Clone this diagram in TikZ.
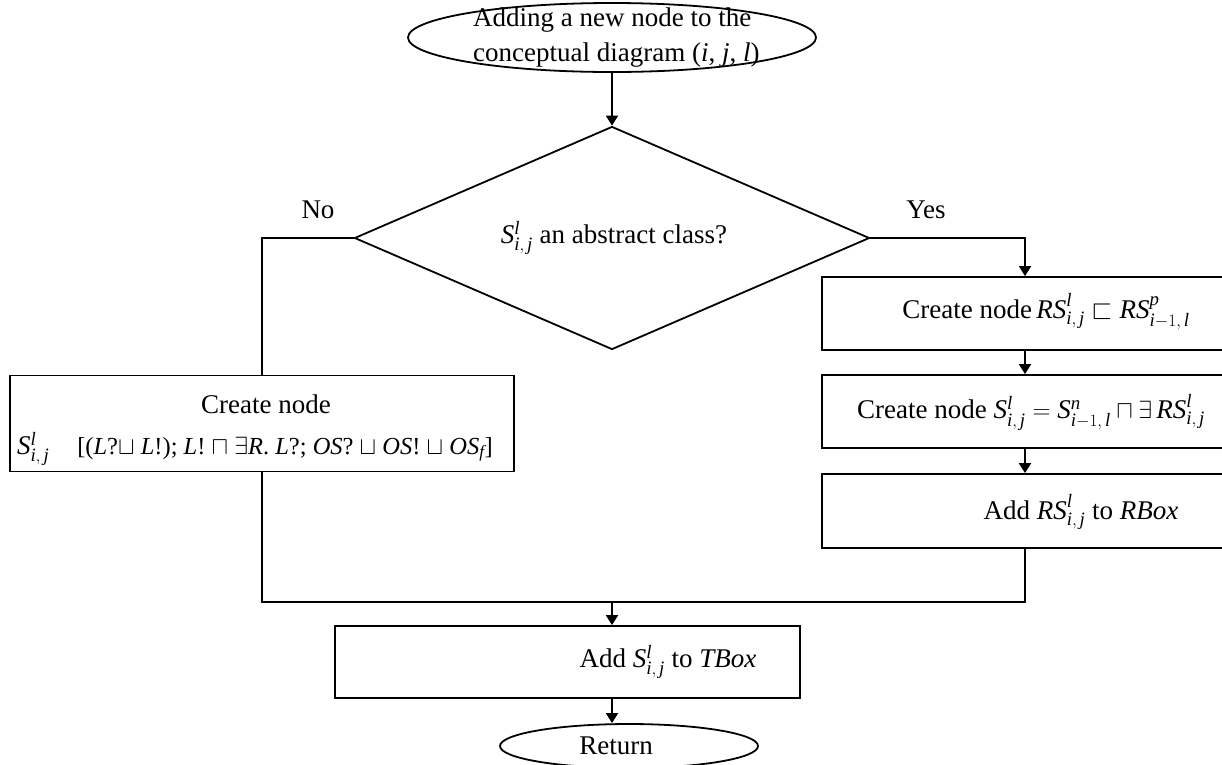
\documentclass[tikz,border=0pt]{standalone}
\usepackage{amsmath,amssymb}
\usepackage{fontspec}
\setmainfont{Liberation Serif}
\usetikzlibrary{shapes.geometric,arrows.meta}

% recurring symbols
\newcommand\Sij{\mathit{S}^{\mathit{l}}_{\mathit{i},\,\mathit{j}}}
\newcommand\RSij{\mathit{RS}^{\mathit{l}}_{\mathit{i},\,\mathit{j}}}

\tikzset{
  line/.style={line width=1.8pt, draw=black},
  arr/.style={line, -{Triangle[length=10pt,width=12pt]}},
  boxst/.style={line, rectangle, inner sep=0pt},
  ellst/.style={line, ellipse, inner sep=0pt},
  diast/.style={line, diamond, inner sep=0pt},
  txt/.style={inner sep=0pt, font=\fontsize{27}{35}\selectfont},
}

\begin{document}
\begin{tikzpicture}[x=1pt, y=-1pt]
\useasboundingbox (0,0) rectangle (1222,764);
\clip (0,0) rectangle (1222,764);

% shapes
\node[ellst, minimum width=408pt, minimum height=69pt] (start) at (612,37.5) {};
\node[diast, minimum width=515pt, minimum height=223pt] (dia) at (612,238) {};
\node[boxst, minimum width=504pt, minimum height=96pt] (lbox) at (262,423.5) {};
\node[boxst, minimum width=406pt, minimum height=73pt] (rbox1) at (1025,313.5) {};
\node[boxst, minimum width=406pt, minimum height=73pt] (rbox2) at (1025,411.5) {};
\node[boxst, minimum width=406pt, minimum height=74pt] (rbox3) at (1025,511) {};
\node[boxst, minimum width=465pt, minimum height=72pt] (tbox) at (567.5,662) {};
\node[ellst, minimum width=258pt, minimum height=44pt] (ret) at (629,746) {};
\coordinate (join) at (612,602);

% texts
\node[txt, anchor=west, align=left] (ttop) at (473,38)
  {Adding a new node to the\\conceptual diagram (\textit{i}, \textit{j}, \textit{l})};
\node[txt] (tdia) at (614,238) {$\Sij$ an abstract class?};
\node[txt] (tno) at (318,210) {No};
\node[txt] (tyes) at (926,210) {Yes};
\node[txt] (tl1) at (266,404) {Create node};
\node[txt, anchor=west] (tl2) at (17,449)
  {$\Sij$\hspace{28pt}{\fontsize{24.5}{30}\selectfont[(\textit{L}?$\sqcup$ \textit{L}!); \textit{L}! $\sqcap$ $\exists$\textit{R}. \textit{L}?; \textit{OS}? $\sqcup$ \textit{OS}! $\sqcup$ \textit{OS}$_{\mathit{f}}$]}};
\node[txt] (tr1) at (1046,312)
  {Create node$\,\RSij \sqsubset \mathit{RS}^{\mathit{p}}_{\mathit{i}-1,\,\mathit{l}}$};
\node[txt] (tr2) at (1031,412)
  {Create node $\Sij = \mathit{S}^{\mathit{n}}_{\mathit{i}-1,\,\mathit{l}} \sqcap \exists\,\RSij$};
\node[txt] (tr3) at (1081,512) {Add $\RSij$ to \textit{RBox}};
\node[txt] (tt) at (668,662) {Add $\Sij$ to \textit{TBox}};
\node[txt] (tret) at (616,746) {Return};

% connectors
\draw[arr] (start.south) -- (dia.north);
\draw[line] (dia.west) -| (lbox.north);
\draw[arr] (dia.east) -| (rbox1.north);
\draw[arr] (rbox1.south) -- (rbox2.north);
\draw[arr] (rbox2.south) -- (rbox3.north);
\draw[line] (lbox.south) |- (join) -| (rbox3.south);
\draw[arr] (join) -- (tbox.north -| join);
\draw[arr] (tbox.south -| join) -- (ret.north -| join);
\end{tikzpicture}
\end{document}
